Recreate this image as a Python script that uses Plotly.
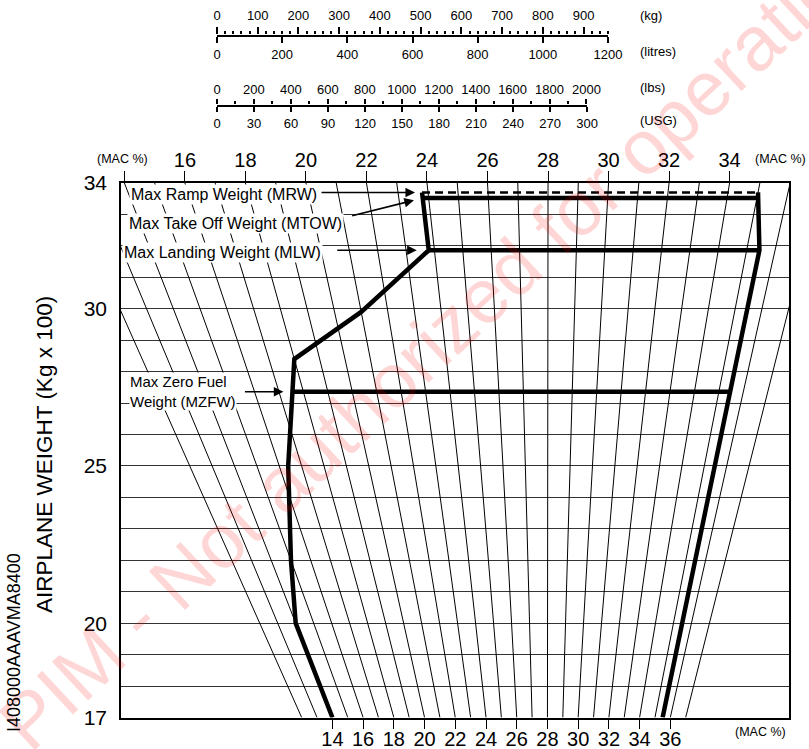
import numpy as np
import plotly.graph_objects as go

# ---------------------------------------------------------------
# Weight & balance envelope: weight (kg x 100) against MAC %
# ---------------------------------------------------------------
W_MIN, W_MAX = 17, 34
MAC_TOP_RANGE = [13.888, 35.963]      # MAC % scale along the top edge (W = 34)
MAC_BOTTOM_RANGE = [0.237, 43.727]    # MAC % scale along the bottom edge (W = 17)

mac_lines = list(range(12, 38))
top_mac_ticks = list(range(14, 35, 2))
bottom_mac_ticks = list(range(14, 37, 2))
weight_ticks = [17, 20, 25, 30, 34]

# Weight limits (kg x 100)
MRW, MTOW, MLW, MZFW = 33.70, 33.52, 31.86, 27.36

# Forward CG limit (MAC %, weight)
fwd_mac = [14.0, 14.0, 15.0, 16.4, 18.0, 21.0, 23.8, 23.8]
fwd_w = [17.0, 20.0, 22.0, 25.0, 28.4, 29.9, 31.86, 33.70]
# Aft CG limit (MAC %, weight)
aft_mac = [35.5, 35.45, 35.0]
aft_w = [17.0, 31.86, 33.70]

# Fuel conversion scales
KG_PER_L = 0.80
LB_PER_KG = 2.20462
L_PER_USG = 3.78541
litre_ticks = list(range(0, 1201, 200))
kg_ticks = list(range(0, 901, 100))
lbs_ticks = list(range(0, 2001, 200))
usg_ticks = list(range(0, 301, 30))

FONT = "Liberation Sans, Arial, Helvetica, sans-serif"
FIG_W, FIG_H = 809, 749


def px(p):
    return p / FIG_W


def py(p):
    return 1 - p / FIG_H


def to_top(mac, w):
    """Position of (MAC %, weight) in top-edge MAC units: constant-MAC lines
    join the same MAC value on the bottom scale and on the top scale."""
    f = (w - W_MIN) / (W_MAX - W_MIN)
    t0, t1 = MAC_TOP_RANGE
    b0, b1 = MAC_BOTTOM_RANGE
    at_bottom = t0 + (mac - b0) / (b1 - b0) * (t1 - t0)
    return f * mac + (1 - f) * at_bottom


def fwd_at(w):
    return float(np.interp(w, fwd_w, fwd_mac))


def aft_at(w):
    return float(np.interp(w, aft_w, aft_mac))


fig = go.Figure()

# constant-MAC fan lines
xs, ys = [], []
for m in mac_lines:
    xs += [to_top(m, W_MIN), to_top(m, W_MAX), None]
    ys += [W_MIN, W_MAX, None]
fig.add_trace(go.Scatter(x=xs, y=ys, mode="lines",
                         line=dict(color="black", width=1),
                         hoverinfo="skip", showlegend=False))

THICK = dict(color="black", width=4.5)

# forward and aft limits
fig.add_trace(go.Scatter(x=[to_top(m, w) for m, w in zip(fwd_mac, fwd_w)], y=fwd_w,
                         mode="lines", line=THICK, hoverinfo="skip", showlegend=False))
fig.add_trace(go.Scatter(x=[to_top(m, w) for m, w in zip(aft_mac, aft_w)], y=aft_w,
                         mode="lines", line=THICK, hoverinfo="skip", showlegend=False))

# horizontal weight limits
for w in (MTOW, MLW, MZFW):
    fig.add_trace(go.Scatter(x=[to_top(fwd_at(w), w), to_top(aft_at(w), w)], y=[w, w],
                             mode="lines", line=THICK, hoverinfo="skip", showlegend=False))
fig.add_trace(go.Scatter(x=[to_top(fwd_at(MRW), MRW), to_top(aft_at(MRW), MRW)], y=[MRW, MRW],
                         mode="lines", line=dict(color="black", width=2.5, dash="8px,5px"),
                         hoverinfo="skip", showlegend=False))

# empty traces so the extra scales get drawn
for xa, ya in (("x2", "y"), ("x3", "y3"), ("x4", "y4"), ("x5", "y5"), ("x6", "y6")):
    fig.add_trace(go.Scatter(x=[None], y=[None], xaxis=xa, yaxis=ya,
                             hoverinfo="skip", showlegend=False))

annotations = []

# watermark
annotations.append(dict(text="PIM - Not authorized for operation", xref="paper", yref="paper",
                        x=px(436), y=py(339), xanchor="center", yanchor="middle",
                        textangle=-43, showarrow=False,
                        font=dict(family=FONT, size=77, color="rgba(255,0,0,0.16)")))

# limit labels
label_font = dict(family=FONT, size=16, color="black")
for text, x0, y0 in (("Max Ramp Weight (MRW)", 129, 194),
                     ("Max Take Off Weight (MTOW)", 127, 223),
                     ("Max Landing Weight (MLW)", 122, 252)):
    annotations.append(dict(text=text, xref="paper", yref="paper", x=px(x0), y=py(y0),
                            xanchor="left", yanchor="middle", showarrow=False,
                            bgcolor="white", borderpad=1, font=label_font))
annotations.append(dict(text="Max Zero Fuel<br>Weight (MZFW)", xref="paper", yref="paper",
                        x=px(129), y=py(391), xanchor="left", yanchor="middle", align="left",
                        showarrow=False, bgcolor="white", borderpad=0,
                        font=dict(family=FONT, size=15, color="black")))

# arrows pointing at the weight limits
ARROW = dict(showarrow=True, arrowhead=2, arrowsize=1.2, arrowwidth=1.6, arrowcolor="black",
             text="", xref="x", yref="y")
annotations.append(dict(ARROW, x=to_top(fwd_at(MRW), MRW), y=MRW, ax=-102, ay=0, standoff=7))
annotations.append(dict(ARROW, x=to_top(fwd_at(MTOW), MTOW), y=MTOW, ax=-72, ay=18, standoff=9))
annotations.append(dict(ARROW, x=to_top(fwd_at(MLW), MLW), y=MLW, ax=-93, ay=0, standoff=12))
annotations.append(dict(ARROW, x=to_top(fwd_at(MZFW), MZFW), y=MZFW, ax=-48, ay=0, standoff=8))

small = dict(family=FONT, size=12.5, color="black")
annotations += [
    dict(text="(MAC %)", xref="paper", yref="paper", x=px(122), y=py(159), showarrow=False,
         xanchor="center", yanchor="middle", font=small),
    dict(text="(MAC %)", xref="paper", yref="paper", x=px(780), y=py(159), showarrow=False,
         xanchor="center", yanchor="middle", font=small),
    dict(text="(MAC %)", xref="paper", yref="paper", x=px(760), y=py(732), showarrow=False,
         xanchor="center", yanchor="middle", font=small),
    dict(text="AIRPLANE WEIGHT (Kg x 100)", xref="paper", yref="paper", x=px(45), y=py(455),
         textangle=-90, showarrow=False, xanchor="center", yanchor="middle",
         font=dict(family=FONT, size=22.5, color="black")),
    dict(text="I408000AAAVMA8400", xref="paper", yref="paper", x=px(14), y=py(643),
         textangle=-90, showarrow=False, xanchor="center", yanchor="middle",
         font=dict(family=FONT, size=18, color="black")),
]
fuel_font = dict(family=FONT, size=13, color="black")
for text, y0 in (("(kg)", 15), ("(litres)", 52), ("(lbs)", 88), ("(USG)", 121)):
    annotations.append(dict(text=text, xref="paper", yref="paper", x=px(638), y=py(y0),
                            xanchor="left", yanchor="middle", showarrow=False, font=fuel_font))

# fuel scale geometry
L_PX = 391 / 1200                         # pixels per litre on the fuel scales
usg_end = 217 + 300 * L_PER_USG * L_PX
lbs_per_usg = L_PER_USG * KG_PER_L * LB_PER_KG

axis_common = dict(showgrid=False, zeroline=False, tickcolor="black", linecolor="black",
                   automargin=False)
hidden_y = dict(visible=False, range=[0, 1], automargin=False, fixedrange=True)
STRIP = 0.02

fig.update_layout(
    width=FIG_W, height=FIG_H,
    margin=dict(l=0, r=0, t=0, b=0, autoexpand=False),
    paper_bgcolor="white", plot_bgcolor="white",
    showlegend=False,
    font=dict(family=FONT, color="black"),
    annotations=annotations,
    xaxis=dict(axis_common, domain=[px(121), px(789)], range=MAC_TOP_RANGE, side="top",
               anchor="y", tickmode="array", tickvals=top_mac_ticks,
               ticktext=[""] + [str(v) for v in top_mac_ticks[1:]],
               ticks="outside", ticklen=10, tickwidth=1, showline=True, linewidth=1.5,
               tickfont=dict(size=20), ticklabelstandoff=-4),
    xaxis2=dict(axis_common, overlaying="x", anchor="y", side="bottom",
                range=MAC_BOTTOM_RANGE, tickmode="array", tickvals=bottom_mac_ticks,
                ticks="outside", ticklen=9, tickwidth=1, showline=True, linewidth=2,
                tickfont=dict(size=20), ticklabelstandoff=-7),
    yaxis=dict(domain=[py(717.5), py(183)], range=[W_MIN, W_MAX], tickmode="array",
               tickvals=weight_ticks, showgrid=True, gridcolor="#333", gridwidth=1,
               minor=dict(dtick=1, tick0=0, showgrid=True, gridcolor="#333", gridwidth=1),
               showline=True, mirror=True, linecolor="black", linewidth=1.5, automargin=False,
               ticks="", zeroline=False, tickfont=dict(size=21), ticklabelstandoff=8),
    # litres (below the line) and kg (above the line)
    yaxis3=dict(hidden_y, domain=[py(35), py(35) + STRIP], anchor="x3"),
    xaxis3=dict(axis_common, domain=[px(217), px(608)], range=[0, 1200], anchor="y3",
                side="bottom", tickmode="array", tickvals=litre_ticks,
                ticks="outside", ticklen=6, tickwidth=1.5, showline=True, linewidth=2,
                tickfont=fuel_font),
    yaxis4=dict(hidden_y, domain=[py(35) - STRIP, py(35)], anchor="x4"),
    xaxis4=dict(axis_common, domain=[px(217), px(608)], range=[0, 1200 * KG_PER_L],
                anchor="y4", side="top", tickmode="array", tickvals=kg_ticks,
                ticks="outside", ticklen=7, tickwidth=1.5, showline=False,
                minor=dict(dtick=20, tick0=0, ticks="outside", ticklen=3, tickcolor="black"),
                tickfont=fuel_font, ticklabelstandoff=2),
    # USG (below the line) and lbs (above the line)
    yaxis5=dict(hidden_y, domain=[py(105), py(105) + STRIP], anchor="x5"),
    xaxis5=dict(axis_common, domain=[px(217), px(usg_end)], range=[0, 300], anchor="y5",
                side="bottom", tickmode="array", tickvals=usg_ticks,
                ticks="outside", ticklen=5, tickwidth=1.5, showline=True, linewidth=2,
                tickfont=fuel_font),
    yaxis6=dict(hidden_y, domain=[py(105) - STRIP, py(105)], anchor="x6"),
    xaxis6=dict(axis_common, domain=[px(217), px(usg_end)], range=[0, 300 * lbs_per_usg],
                anchor="y6", side="top", tickmode="array", tickvals=lbs_ticks,
                ticks="outside", ticklen=5, tickwidth=1.5, showline=False,
                minor=dict(dtick=100, tick0=0, ticks="outside", ticklen=3, tickcolor="black"),
                tickfont=fuel_font),
)

fig.write_html("out.html")
